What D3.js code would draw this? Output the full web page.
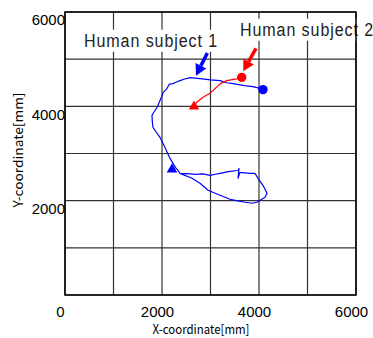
<!DOCTYPE html>
<html>
<head>
<meta charset="utf-8">
<script src="https://cdn.jsdelivr.net/npm/d3@7"></script>
<style>
  body { margin: 0; background: #fff; }
  svg { display: block; }
</style>
</head>
<body>
<svg id="chart" width="373" height="338"></svg>
<script>
// trajectories in mm
const subject1X = [4082, 3980, 3876, 3700, 3464, 3330, 3196, 3000, 2784, 2680, 2577, 2470, 2371, 2290, 2227, 2150, 2103, 2021, 1990, 1959, 1897, 1814, 1794, 1800, 1814, 1890, 1959, 2062, 2165, 2227, 2280, 2330, 2371, 2520, 2680, 2845, 2990, 3100, 3196, 3402, 3567, 3588, 3567, 3608, 3814, 3918, 3979, 4082, 4165, 4124, 3959, 3856, 3711, 3560, 3402, 3196, 2948, 2784, 2619, 2371];
const subject1Y = [4355, 4390, 4419, 4440, 4482, 4500, 4545, 4560, 4588, 4600, 4609, 4580, 4545, 4510, 4482, 4470, 4376, 4292, 4200, 4123, 3975, 3848, 3805, 3680, 3552, 3440, 3340, 3129, 2896, 2791, 2700, 2643, 2579, 2575, 2558, 2568, 2537, 2560, 2579, 2622, 2640, 2680, 2475, 2600, 2579, 2579, 2474, 2326, 2156, 2072, 1966, 1945, 1966, 1995, 2030, 2114, 2220, 2368, 2474, 2579];

const subject2X = [3643, 3540, 3334, 3196, 3052, 2990, 2845, 2716, 2666];
const subject2Y = [4615, 4581, 4545, 4476, 4334, 4277, 4192, 4087, 3996];

const xTicks = [0, 2000, 4000, 6000];
const yTicks = [2000, 4000, 6000];
const gridValues = [0, 1000, 2000, 3000, 4000, 5000, 6000];

const labels = ["Human subject 1", "Human subject 2"];
const labelX = [392, 3608];
const labelY = [5264, 5497];
const arrowTailX = [2934, 3938];
const arrowTailY = [5131, 5228];
const arrowTipX = [2701, 3676];
const arrowTipY = [4651, 4742];
const colors = ["#0000ff", "#ff0000"];

const svg = d3.select("#chart");
const plotLeft = 65, plotRight = 356, plotTop = 12, plotBottom = 295;

const x = d3.scaleLinear().domain([0, 6000]).range([plotLeft, plotRight]);
const y = d3.scaleLinear().domain([0, 6000]).range([plotBottom, plotTop]);

// grid
const grid = svg.append("g").attr("stroke", "#333").attr("stroke-width", 1.2);
grid.selectAll("line.v").data(gridValues).enter().append("line")
    .attr("class", "v")
    .attr("x1", d => x(d)).attr("x2", d => x(d))
    .attr("y1", plotTop).attr("y2", plotBottom);
grid.selectAll("line.h").data(gridValues).enter().append("line")
    .attr("class", "h")
    .attr("x1", plotLeft).attr("x2", plotRight)
    .attr("y1", d => y(d)).attr("y2", d => y(d));

// tick labels
const xAxis = svg.append("g")
    .attr("transform", "translate(-5," + (plotBottom + 17) + ")")
    .call(d3.axisBottom(x).tickValues(xTicks).tickSize(0).tickFormat(d3.format("d")));
xAxis.select(".domain").remove();
xAxis.selectAll("text")
    .attr("font-family", "Liberation Sans, Arial, sans-serif")
    .attr("font-size", 15).attr("fill", "#000").attr("dy", "0.32em").attr("y", 0);

const yAxis = svg.append("g")
    .attr("transform", "translate(" + (plotLeft + 1) + ",8)")
    .call(d3.axisLeft(y).tickValues(yTicks).tickSize(0).tickFormat(d3.format("d")));
yAxis.select(".domain").remove();
yAxis.selectAll("text")
    .attr("font-family", "Liberation Sans, Arial, sans-serif")
    .attr("font-size", 15).attr("fill", "#000").attr("x", -1);

// axis titles
svg.append("text")
    .attr("x", 201).attr("y", 329)
    .attr("dy", "0.35em")
    .attr("text-anchor", "middle")
    .attr("font-family", "Noto Sans CJK JP, sans-serif")
    .attr("font-size", 13)
    .attr("textLength", 97).attr("lengthAdjust", "spacingAndGlyphs")
    .text("X-coordinate[mm]");

svg.append("text")
    .attr("transform", "translate(18,150) rotate(-90)")
    .attr("dy", "0.35em")
    .attr("text-anchor", "middle")
    .attr("font-family", "Noto Sans CJK JP, sans-serif")
    .attr("font-size", 13)
    .attr("textLength", 115).attr("lengthAdjust", "spacingAndGlyphs")
    .text("Y-coordinate[mm]");

// trajectories
const line = d3.line().x(d => x(d[0])).y(d => y(d[1]));
const paths = [d3.zip(subject1X, subject1Y), d3.zip(subject2X, subject2Y)];
svg.selectAll("path.traj").data(paths).enter().append("path")
    .attr("class", "traj")
    .attr("d", line)
    .attr("fill", "none")
    .attr("stroke", (d, i) => colors[i])
    .attr("stroke-width", 1.2)
    .attr("stroke-linejoin", "round");

// start dots and end triangles
const startPts = paths.map(p => p[0]);
const endPts = [[2206, 2664], [2660, 3996]];
svg.selectAll("circle.start").data(startPts).enter().append("circle")
    .attr("cx", d => x(d[0])).attr("cy", d => y(d[1]))
    .attr("r", 4.7)
    .attr("fill", (d, i) => colors[i]);
const tri = d3.symbol().type(d3.symbolTriangle).size(48);
svg.selectAll("path.end").data(endPts).enter().append("path")
    .attr("d", tri)
    .attr("transform", d => "translate(" + x(d[0]) + "," + y(d[1]) + ")")
    .attr("fill", (d, i) => colors[i]);

// labels with white boxes
labels.forEach((t, i) => {
    const g = svg.append("g");
    const txt = g.append("text")
        .attr("x", x(labelX[i])).attr("y", y(labelY[i]))
        .attr("font-family", "Liberation Sans, Arial, sans-serif")
        .attr("font-size", 18)
        .attr("fill", "#222")
        .attr("letter-spacing", 1)
        .attr("textLength", 134).attr("lengthAdjust", "spacingAndGlyphs")
        .text(t);
    const b = txt.node().getBBox();
    g.insert("rect", "text")
        .attr("x", b.x - 4).attr("y", b.y - 1)
        .attr("width", b.width + 8).attr("height", b.height + 2)
        .attr("fill", "#fff");
});

// frame drawn over the label boxes
svg.append("rect")
    .attr("x", plotLeft).attr("y", plotTop)
    .attr("width", plotRight - plotLeft).attr("height", plotBottom - plotTop)
    .attr("fill", "none").attr("stroke", "#000").attr("stroke-width", 1.5);

// arrows
labels.forEach((t, i) => {
    const x0 = x(arrowTailX[i]), y0 = y(arrowTailY[i]);
    const x1 = x(arrowTipX[i]), y1 = y(arrowTipY[i]);
    const ang = Math.atan2(y1 - y0, x1 - x0);
    const headLen = 11, headW = 6;
    const bx = x1 - headLen * Math.cos(ang), by = y1 - headLen * Math.sin(ang);
    svg.append("line")
        .attr("x1", x0).attr("y1", y0).attr("x2", bx).attr("y2", by)
        .attr("stroke", colors[i]).attr("stroke-width", 3.5);
    const px = -Math.sin(ang), py = Math.cos(ang);
    svg.append("polygon")
        .attr("points", [[x1, y1], [bx + headW * px, by + headW * py], [bx - headW * px, by - headW * py]].map(p => p.join(",")).join(" "))
        .attr("fill", colors[i]);
});
</script>
</body>
</html>
